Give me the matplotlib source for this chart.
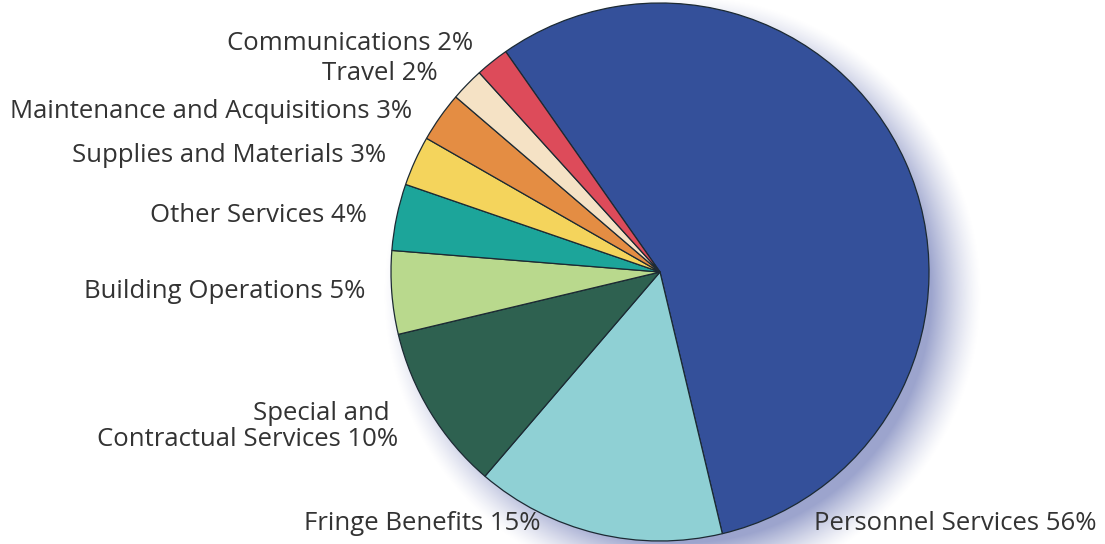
import numpy as np
from matplotlib import pyplot as plt

# slices, clockwise starting from the top (Personnel Services)
categories = ['Personnel Services', 'Fringe Benefits', 'Special and\nContractual Services',
              'Building Operations', 'Other Services', 'Supplies and Materials',
              'Maintenance and Acquisitions', 'Travel', 'Communications']
shares = [56, 15, 10, 5, 4, 3, 3, 2, 2]
colors = ['#34509a', '#8fd0d4', '#2e6150', '#b9d98d', '#1ca59a',
          '#f4d45c', '#e48d43', '#f5e2c5', '#dd4b5a']

W, H = 1105, 544
CX, CY, R = 660, H - 272, 269

fig = plt.figure(figsize=(W / 100, H / 100), dpi=100)
ax = fig.add_axes([0, 0, 1, 1])

# soft shadow at the lower right
yy, xx = np.mgrid[0:H, 0:W]
d = np.hypot(xx - (CX + 22), (yy + 0.5) - (CY - 22))
alpha = np.clip((R + 30 - d) / 50, 0, 1) ** 1.3 * 0.8
shadow = np.zeros((H, W, 4))
shadow[..., 0], shadow[..., 1], shadow[..., 2] = 0.52, 0.56, 0.76
shadow[..., 3] = alpha
ax.imshow(shadow, extent=(0, W, 0, H), origin='lower', zorder=0, interpolation='bilinear')

ax.pie(shares, colors=colors, startangle=125, counterclock=False,
       center=(CX, CY), radius=R, frame=True,
       wedgeprops=dict(edgecolor='#1c2a33', linewidth=0.9, zorder=2))
ax.set_xlim(0, W)
ax.set_ylim(0, H)
ax.set_aspect('equal')
ax.axis('off')

font = dict(family='Open Sans', fontsize=18.5, color='#333333', va='center')
label = [f'{c} {s}%' for c, s in zip(categories, shares)]

ax.text(1097, H - 523, label[0], ha='right', **font)
ax.text(540, H - 523, label[1], ha='right', **font)
ax.text(390, H - 413, 'Special and', ha='right', **font)
ax.text(398, H - 440, f'Contractual Services {shares[2]}%', ha='right', **font)
ax.text(365, H - 292, label[3], ha='right', **font)
ax.text(367, H - 215, label[4], ha='right', **font)
ax.text(386, H - 155, label[5], ha='right', **font)
ax.text(412, H - 112, label[6], ha='right', **font)
ax.text(438, H - 73, label[7], ha='right', **font)
ax.text(473, H - 43, label[8], ha='right', **font)

plt.savefig('out.png', dpi=100)
